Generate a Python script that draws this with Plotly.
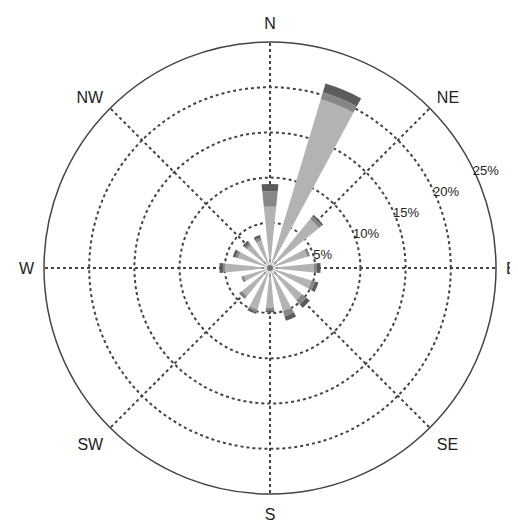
import plotly.graph_objects as go

directions = [0, 22.5, 45, 67.5, 90, 112.5, 135, 157.5, 180, 202.5, 225, 247.5, 270, 292.5, 315, 337.5]
low_speed = [6.8, 19.5, 7.0, 4.3, 4.9, 4.8, 4.6, 5.0, 4.4, 4.8, 4.0, 3.0, 5.0, 3.7, 3.3, 3.2]
mid_speed = [1.7, 0.8, 0.4, 0.2, 0.3, 0.4, 0.6, 0.6, 0.3, 0.3, 0.3, 0.2, 0.2, 0.3, 0.3, 0.3]
high_speed = [0.8, 1.0, 0.2, 0.1, 0.4, 0.4, 0.5, 0.5, 0.2, 0.2, 0.1, 0.1, 0.4, 0.3, 0.3, 0.3]

compass_vals = [0, 45, 90, 135, 180, 225, 270, 315]
compass_text = ["N", "NE", "E", "SE", "S", "SW", "W", "NW"]
ring_vals = [5, 10, 15, 20, 25]
ring_text = ["5%", "10%", "15%", "20%", "25%"]

fig = go.Figure()
for vals, col, name in [(low_speed, "#b3b3b3", "low"), (mid_speed, "#878787", "mid"), (high_speed, "#5c5c5c", "high")]:
    fig.add_trace(go.Barpolar(r=vals, theta=directions, width=11.5, name=name,
                              marker=dict(color=col, line=dict(width=0))))

fig.update_layout(
    width=518, height=523,
    margin=dict(l=0, r=0, t=0, b=0),
    paper_bgcolor="white",
    showlegend=False,
    font=dict(family="Liberation Sans, Arial, sans-serif", color="#222"),
    polar=dict(
        domain=dict(x=[36/518, 488/518], y=[1-486/523, 1-34/523]),
        bgcolor="white",
        barmode="stack",
        angularaxis=dict(rotation=90, direction="clockwise",
                         tickmode="array", tickvals=compass_vals, ticktext=compass_text,
                         ticks="outside", ticklen=6, tickcolor="rgba(0,0,0,0)",
                         tickfont=dict(size=16, color="#222"),
                         showline=True, linecolor="#444", linewidth=1.5,
                         showgrid=True, gridcolor="#444", gridwidth=1.5, griddash="dot"),
        radialaxis=dict(range=[0, 25], angle=28, tickangle=28, side="clockwise",
                        tickmode="array", tickvals=ring_vals, ticktext=ring_text,
                        tickfont=dict(size=13, color="#222"),
                        showline=False, ticks="",
                        showgrid=True, gridcolor="#444", gridwidth=1.5, griddash="dot"),
    ),
)
fig.write_html("out.html")
